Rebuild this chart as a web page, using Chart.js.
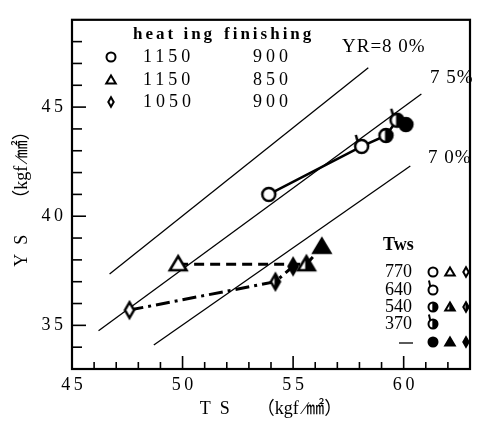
<!DOCTYPE html>
<html>
<head>
<meta charset="utf-8">
<script src="https://cdn.jsdelivr.net/npm/chart.js@4"></script>
<style>
html,body{margin:0;padding:0;background:#fff;}
</style>
</head>
<body>
<canvas id="c" width="480" height="423"></canvas>
<script>
// heating 1150 / finishing 900
const circleTS = [53.9, 58.1, 59.2, 59.7, 60.1];
const circleYS = [41.0, 43.2, 43.7, 44.4, 44.2];
const circleTws = ['770', '640', '540', '370', '-'];

// heating 1150 / finishing 850
const triTS = [49.8, 55.6, 56.3];
const triYS = [37.8, 37.8, 38.6];
const triTws = ['770', '540', '-'];

// heating 1050 / finishing 900
const diaTS = [47.6, 54.2, 55.0];
const diaYS = [35.7, 37.0, 37.7];
const diaTws = ['770', '540', '-'];

// yield ratio guide lines
const yrLabels = ['YR=8 0%', '7 5%', '7 0%'];
const yrTS = [[46.7, 58.4], [46.2, 60.8], [48.7, 60.3]];
const yrYS = [[37.35, 46.8], [34.75, 45.6], [34.1, 42.3]];

const xTickLabels = [45, 50, 55, 60];
const yTickLabels = [35, 40, 45];

const SERIF = "'Liberation Serif', 'DejaVu Serif', serif";
const CJK = "'Liberation Serif', 'Noto Sans CJK JP', serif";

const twsFill = { '770': 'open', '640': 'opentail', '540': 'half', '370': 'halftail', '-': 'full' };

function shapePath(ctx, shape, x, y, s) {
  ctx.beginPath();
  if (shape === 'circle') {
    ctx.arc(x, y, s, 0, Math.PI * 2);
  } else if (shape === 'triangle') {
    ctx.moveTo(x, y - s);
    ctx.lineTo(x + s * 1.05, y + s * 0.75);
    ctx.lineTo(x - s * 1.05, y + s * 0.75);
    ctx.closePath();
  } else {
    ctx.moveTo(x, y - s * 1.3);
    ctx.lineTo(x + s * 0.75, y);
    ctx.lineTo(x, y + s * 1.3);
    ctx.lineTo(x - s * 0.75, y);
    ctx.closePath();
  }
}

function drawMarker(ctx, shape, fill, x, y, s, lw) {
  ctx.save();
  ctx.lineWidth = lw;
  ctx.strokeStyle = '#000';
  ctx.setLineDash([]);
  shapePath(ctx, shape, x, y, s);
  ctx.fillStyle = fill === 'full' ? '#000' : '#fff';
  ctx.fill();
  if (fill.startsWith('half')) {
    ctx.save();
    ctx.clip();
    ctx.fillStyle = '#000';
    ctx.fillRect(x - s * 0.15, y - s * 2, s * 3, s * 4);
    ctx.restore();
  }
  shapePath(ctx, shape, x, y, s);
  ctx.stroke();
  if (fill.endsWith('tail')) {
    ctx.beginPath();
    ctx.moveTo(x - s * 0.6, y - s * 0.75);
    ctx.lineTo(x - s * 0.9, y - s - 5);
    ctx.stroke();
  }
  ctx.restore();
}

function makeMarker(shape, tws, s) {
  const size = Math.ceil(s * 2 + 16);
  const cv = document.createElement('canvas');
  cv.width = size; cv.height = size;
  drawMarker(cv.getContext('2d'), shape, twsFill[tws], size / 2, size / 2, s, 2.5);
  return cv;
}

const pts = (xs, ys) => xs.map((x, i) => ({ x, y: ys[i] }));
const spaced = v => String(v).split('').join('\u2009');

const datasets = [
  {
    data: pts(circleTS, circleYS),
    borderColor: '#000', borderWidth: 2.5,
    pointStyle: circleTws.map(t => makeMarker('circle', t, 6.5)),
    pointRadius: 7
  },
  {
    data: pts(triTS, triYS),
    borderColor: '#000', borderWidth: 3, borderDash: [10, 6],
    pointStyle: triTws.map(t => makeMarker('triangle', t, 8)),
    pointRadius: 7
  },
  {
    data: pts(diaTS, diaYS),
    borderColor: '#000', borderWidth: 3, borderDash: [14, 5, 3, 5],
    pointStyle: diaTws.map(t => makeMarker('diamond', t, 6)),
    pointRadius: 7
  }
];
yrTS.forEach((xs, i) => {
  datasets.push({
    data: pts(xs, yrYS[i]),
    borderColor: '#000', borderWidth: 1.3, pointRadius: 0
  });
});

const decor = {
  id: 'decor',
  afterDraw(chart) {
    const { ctx, chartArea: a, scales: { x, y } } = chart;
    ctx.save();
    ctx.strokeStyle = '#000';
    ctx.fillStyle = '#000';
    // frame
    ctx.lineWidth = 2.2;
    ctx.strokeRect(a.left, a.top, a.right - a.left, a.bottom - a.top);
    // inward ticks
    ctx.lineWidth = 1.6;
    for (let v = Math.ceil(x.min) + 1; v < x.max; v++) {
      const px = x.getPixelForValue(v);
      const len = v % 5 === 0 ? 13 : 7;
      ctx.beginPath(); ctx.moveTo(px, a.bottom); ctx.lineTo(px, a.bottom - len); ctx.stroke();
    }
    for (let v = Math.ceil(y.min) + 1; v < y.max; v++) {
      const py = y.getPixelForValue(v);
      const len = v % 5 === 0 ? 14 : 10;
      ctx.beginPath(); ctx.moveTo(a.left, py); ctx.lineTo(a.left + len, py); ctx.stroke();
    }
    // YR labels
    ctx.font = '19px ' + SERIF;
    ctx.letterSpacing = '1px';
    ctx.textBaseline = 'middle';
    ctx.textAlign = 'left';
    ctx.fillText(yrLabels[0], 342, 47);
    ctx.fillText(yrLabels[1], 430, 78);
    ctx.fillText(yrLabels[2], 428, 158);

    // upper-left legend
    ctx.letterSpacing = '3px';
    ctx.font = 'bold 17px ' + SERIF;
    ctx.fillText('heat ing', 133, 35);
    ctx.fillText('finishing', 224, 35);
    ctx.letterSpacing = '4px';
    ctx.font = '18px ' + SERIF;
    const rows = [['circle', '1150', '900', 57], ['triangle', '1150', '850', 80], ['diamond', '1050', '900', 102]];
    rows.forEach(([shape, h, f, ry]) => {
      drawMarker(ctx, shape, 'open', 111, ry, shape === 'diamond' ? 3.6 : 4.5, 2);
      ctx.fillText(h, 143, ry);
      ctx.fillText(f, 253, ry);
    });

    // Tws legend
    ctx.letterSpacing = '0px';
    ctx.font = 'bold 18px ' + SERIF;
    ctx.fillText('Tws', 383, 245);
    ctx.font = '18px ' + SERIF;
    const tws = [['770', 272, ['open', 'open', 'open']], ['640', 290, ['opentail']],
                 ['540', 307, ['half', 'half', 'half']], ['370', 324, ['halftail']], ['—', 342, ['full', 'full', 'full']]];
    const shapes = ['circle', 'triangle', 'diamond'];
    const sx = [433, 450, 466];
    tws.forEach(([lab, ry, fills]) => {
      if (lab === '—') {
        ctx.beginPath(); ctx.lineWidth = 1.3; ctx.moveTo(399, ry + 1); ctx.lineTo(413, ry + 1); ctx.stroke();
      } else {
        ctx.fillText(lab, 385, ry);
      }
      fills.forEach((fl, k) => {
        const sh = shapes[k];
        drawMarker(ctx, sh, fl, sx[k], ry, sh === 'diamond' ? 3.6 : 4.5, 2);
      });
    });
    ctx.restore();
  }
};

new Chart(document.getElementById('c'), {
  type: 'scatter',
  data: { datasets },
  options: {
    responsive: false,
    animation: false,
    showLine: true,
    layout: { padding: { top: 13, right: 2, left: 0, bottom: 0 } },
    plugins: { legend: { display: false }, tooltip: { enabled: false } },
    scales: {
      x: {
        type: 'linear', min: 45, max: 63,
        grid: { display: false, drawTicks: false },
        border: { display: false },
        afterFit: s => { s.height = 54; },
        ticks: {
          stepSize: 1, autoSkip: false, maxRotation: 0, padding: 5, color: '#000',
          font: { family: SERIF, size: 18 },
          callback: v => xTickLabels.includes(v) ? spaced(v) : ''
        },
        title: {
          display: true, text: 'T\u2002S　　（kgf ∕㎟）', color: '#000',
          font: { family: CJK, size: 18 }, padding: { top: 0, bottom: 3 }
        }
      },
      y: {
        type: 'linear', min: 33, max: 49,
        grid: { display: false, drawTicks: false },
        border: { display: false },
        afterFit: s => { s.width = 72; },
        ticks: {
          stepSize: 1, autoSkip: false, padding: 9, color: '#000',
          font: { family: SERIF, size: 18 },
          callback: v => yTickLabels.includes(v) ? spaced(v) : ''
        },
        title: {
          display: true, text: 'Y\u2002S　　（kgf ∕㎟）', color: '#000',
          font: { family: CJK, size: 18 }, padding: { top: 11, bottom: 0 }
        }
      }
    }
  },
  plugins: [decor]
});
</script>
</body>
</html>
